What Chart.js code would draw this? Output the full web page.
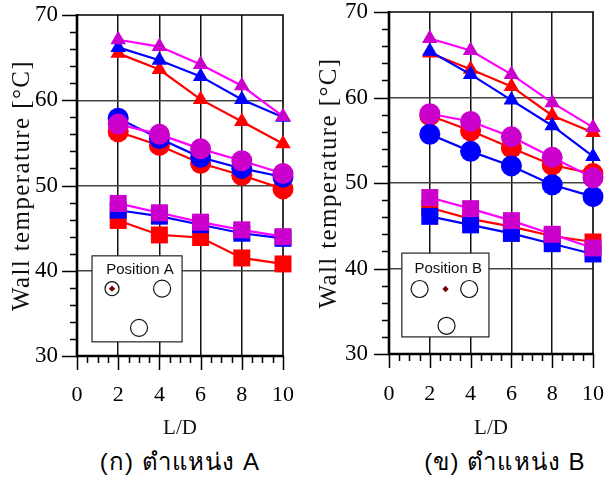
<!DOCTYPE html>
<html lang="th">
<head>
  <meta charset="UTF-8">
  <title>Wall temperature vs L/D</title>
  <script src="https://cdn.jsdelivr.net/npm/chart.js"></script>
  <style>
    body {
      margin: 0;
      background: #fff;
      width: 605px;
      height: 479px;
      position: relative;
      overflow: hidden;
    }
    .panel {
      position: absolute;
      top: 0;
      height: 440px;
    }
    #panelA { left: 0; width: 300px; }
    #panelB { left: 300px; width: 305px; }
    .caption {
      position: absolute;
      top: 449px;
      font-size: 24px;
      line-height: 26px;
      letter-spacing: 1.1px;
      font-family: "Liberation Sans", Arial, sans-serif;
      color: #000;
      white-space: nowrap;
      transform: translateX(-50%);
    }
  </style>
</head>
<body>
  <div class="panel" id="panelA"><canvas id="chartA" width="300" height="440"></canvas></div>
  <div class="panel" id="panelB"><canvas id="chartB" width="305" height="440"></canvas></div>
  <div class="caption" style="left:180px">(ก) ตำแหน่ง A</div>
  <div class="caption" style="left:505px">(ข) ตำแหน่ง B</div>

  <script>
    const ldValues = [2, 4, 6, 8, 10];
    const xTicks = [0, 2, 4, 6, 8, 10];
    const yTicks = [30, 40, 50, 60, 70];

    // position A
    const triRedA = [65.5, 63.6, 60.1, 57.5, 54.9];
    const triBlueA = [66.2, 64.7, 62.8, 60.1, 58.0];
    const triMagA = [67.1, 66.3, 64.2, 61.7, 58.1];
    const cirRedA = [56.3, 54.7, 52.6, 51.2, 49.6];
    const cirBlueA = [57.9, 55.5, 53.3, 52.0, 51.0];
    const cirMagA = [57.2, 56.0, 54.3, 52.9, 51.4];
    const sqRedA = [45.9, 44.2, 43.9, 41.5, 40.8];
    const sqBlueA = [47.1, 46.4, 45.4, 44.4, 43.8];
    const sqMagA = [47.9, 46.8, 45.7, 44.8, 44.0];

    // position B
    const triRedB = [65.2, 63.3, 61.3, 57.9, 55.9];
    const triBlueB = [65.4, 62.7, 59.7, 56.7, 53.1];
    const triMagB = [66.9, 65.5, 62.7, 59.4, 56.5];
    const cirRedB = [57.9, 56.1, 54.1, 52.1, 51.1];
    const cirBlueB = [55.7, 53.7, 52.0, 49.8, 48.4];
    const cirMagB = [58.1, 57.2, 55.4, 53.0, 50.6];
    const sqRedB = [47.1, 45.8, 44.9, 43.8, 43.1];
    const sqBlueB = [46.1, 45.1, 44.1, 42.9, 41.7];
    const sqMagB = [48.3, 47.0, 45.6, 44.0, 42.4];

    const RED = '#ff0000';
    const BLUE = '#0000ff';
    const MAG_LINE = '#ff00ff';
    const MAG_FILL = '#cc00cc';

    const markerSize = { triangle: 9, circle: 10.5, rect: 12 };

    function series(values, line, fill, style) {
      return {
        data: values.map((v, i) => ({ x: ldValues[i], y: v })),
        borderColor: line,
        backgroundColor: fill,
        borderWidth: 2.2,
        pointStyle: style,
        pointRadius: markerSize[style],
        pointBorderWidth: 0,
        pointBackgroundColor: fill,
        pointHoverRadius: markerSize[style],
        clip: false,
        tension: 0
      };
    }

    // first dataset is painted last, so magenta goes first
    function buildSets(t, c, s) {
      return [
        series(t.mag, MAG_LINE, MAG_FILL, 'triangle'),
        series(t.blue, BLUE, BLUE, 'triangle'),
        series(t.red, RED, RED, 'triangle'),
        series(c.mag, MAG_LINE, MAG_FILL, 'circle'),
        series(c.blue, BLUE, BLUE, 'circle'),
        series(c.red, RED, RED, 'circle'),
        series(s.mag, MAG_LINE, MAG_FILL, 'rect'),
        series(s.blue, BLUE, BLUE, 'rect'),
        series(s.red, RED, RED, 'rect')
      ];
    }

    // schematic of the tube cross-section, in axis units
    const insetA = {
      label: 'Position A',
      box: [0.73, 5.1, 31.66, 41.75],
      text: [3.06, 40.1],
      holes: [[4.13, 37.9], [3.01, 33.3]],
      ring: [1.70, 37.9],
      probe: [1.70, 37.9]
    };
    const insetB = {
      label: 'Position B',
      box: [0.63, 4.9, 32.0, 41.8],
      text: [2.9, 39.9],
      holes: [[1.5, 37.6], [3.93, 37.6], [2.82, 33.3]],
      ring: null,
      probe: [2.77, 37.6]
    };

    const panelPlugin = {
      id: 'panel',
      beforeDatasetsDraw(chart, args, opts) {
        const { ctx, chartArea: a, scales: { x, y } } = chart;
        const ins = opts.inset;
        ctx.save();

        // inset box
        const bx0 = x.getPixelForValue(ins.box[0]);
        const bx1 = x.getPixelForValue(ins.box[1]);
        const by0 = y.getPixelForValue(ins.box[3]);
        const by1 = y.getPixelForValue(ins.box[2]);
        ctx.fillStyle = '#fff';
        ctx.fillRect(bx0, by0, bx1 - bx0, by1 - by0);
        ctx.strokeStyle = '#222';
        ctx.lineWidth = 1.2;
        ctx.strokeRect(bx0, by0, bx1 - bx0, by1 - by0);

        ctx.fillStyle = '#111';
        ctx.font = '15px "Liberation Sans", Arial, sans-serif';
        ctx.textAlign = 'center';
        ctx.textBaseline = 'middle';
        ctx.fillText(ins.label, x.getPixelForValue(ins.text[0]), y.getPixelForValue(ins.text[1]));

        ctx.lineWidth = 1.2;
        ctx.strokeStyle = '#111';
        ins.holes.forEach(h => {
          ctx.beginPath();
          ctx.arc(x.getPixelForValue(h[0]), y.getPixelForValue(h[1]), 8.5, 0, Math.PI * 2);
          ctx.stroke();
        });
        if (ins.ring) {
          ctx.beginPath();
          ctx.arc(x.getPixelForValue(ins.ring[0]), y.getPixelForValue(ins.ring[1]), 7, 0, Math.PI * 2);
          ctx.stroke();
        }
        const px = x.getPixelForValue(ins.probe[0]);
        const py = y.getPixelForValue(ins.probe[1]);
        ctx.fillStyle = '#7a0000';
        ctx.beginPath();
        ctx.moveTo(px, py - 3.2);
        ctx.lineTo(px + 3.2, py);
        ctx.lineTo(px, py + 3.2);
        ctx.lineTo(px - 3.2, py);
        ctx.closePath();
        ctx.fill();

        // plot frame
        ctx.strokeStyle = '#000';
        ctx.lineWidth = 1.6;
        ctx.beginPath();
        ctx.moveTo(a.left, a.top);
        ctx.lineTo(a.right, a.top);
        ctx.lineTo(a.right, a.bottom);
        ctx.stroke();
        ctx.lineWidth = 2.6;
        ctx.beginPath();
        ctx.moveTo(a.left, a.top - 1);
        ctx.lineTo(a.left, a.bottom);
        ctx.lineTo(a.right + 1, a.bottom);
        ctx.stroke();
        ctx.restore();
      },
      afterDraw(chart, args, opts) {
        const { ctx, chartArea: a, scales: { x, y } } = chart;
        ctx.save();
        ctx.strokeStyle = '#000';
        ctx.lineWidth = 1.5;
        ctx.beginPath();
        for (let v = 30; v <= 70; v += 2) {
          const len = v % 10 === 0 ? 15 : 7;
          const py = Math.round(y.getPixelForValue(v)) + 0.5;
          ctx.moveTo(a.left - len, py);
          ctx.lineTo(a.left, py);
        }
        for (let v = 0; v <= 10; v += 0.5) {
          const len = v % 2 === 0 ? 14 : 7;
          const px = Math.round(x.getPixelForValue(v)) + 0.5;
          ctx.moveTo(px, a.bottom);
          ctx.lineTo(px, a.bottom + len);
        }
        ctx.stroke();

        // rotated axis title, slightly letter-spaced
        ctx.fillStyle = '#111';
        ctx.font = '25px "Liberation Serif", "Times New Roman", serif';
        ctx.letterSpacing = '1.4px';
        ctx.textAlign = 'center';
        ctx.textBaseline = 'middle';
        ctx.translate(opts.titleX, (a.top + a.bottom) / 2);
        ctx.rotate(-Math.PI / 2);
        ctx.fillText('Wall temperature [°C]', 0, 0);
        ctx.restore();
      }
    };

    // keep tick-label padding from eating into the plot area
    function noEdgePadding(scale) {
      scale.paddingLeft = 0;
      scale.paddingRight = 0;
      scale.paddingTop = 0;
      scale.paddingBottom = 0;
    }

    function makeChart(id, sets, inset, geo) {
      return new Chart(document.getElementById(id), {
        type: 'line',
        data: { datasets: sets },
        plugins: [panelPlugin],
        options: {
          responsive: false,
          animation: false,
          events: [],
          layout: { padding: geo.padding },
          plugins: {
            legend: { display: false },
            tooltip: { enabled: false },
            panel: { inset: inset, titleX: geo.titleX }
          },
          scales: {
            x: {
              type: 'linear',
              min: 0,
              max: 10,
              afterFit(scale) { scale.height = geo.xHeight; noEdgePadding(scale); },
              afterBuildTicks(scale) { scale.ticks = xTicks.map(v => ({ value: v })); },
              ticks: {
                color: '#000',
                padding: geo.xPad,
                font: { family: '"Liberation Serif", "Times New Roman", serif', size: 22, lineHeight: 1 }
              },
              grid: {
                drawTicks: false,
                lineWidth: 1.5,
                color: c => (c.tick && c.tick.value > 0 && c.tick.value < 10) ? '#111' : 'rgba(0,0,0,0)'
              },
              border: { display: false },
              title: {
                display: true,
                text: 'L/D',
                color: '#111',
                padding: { top: 0, bottom: 0 },
                font: { family: '"Liberation Serif", "Times New Roman", serif', size: 21, lineHeight: 1.1 }
              }
            },
            y: {
              type: 'linear',
              min: 30,
              max: 70,
              afterFit(scale) { scale.width = geo.yWidth; noEdgePadding(scale); },
              afterBuildTicks(scale) { scale.ticks = yTicks.map(v => ({ value: v })); },
              ticks: {
                color: '#000',
                padding: geo.yPad,
                font: { family: '"Liberation Serif", "Times New Roman", serif', size: 23, lineHeight: 1 }
              },
              grid: {
                drawTicks: false,
                lineWidth: 1.5,
                color: c => (c.tick && c.tick.value > 30 && c.tick.value < 70) ? '#444' : 'rgba(0,0,0,0)'
              },
              border: { display: false }
            }
          }
        }
      });
    }

    makeChart('chartA',
      buildSets(
        { red: triRedA, blue: triBlueA, mag: triMagA },
        { red: cirRedA, blue: cirBlueA, mag: cirMagA },
        { red: sqRedA, blue: sqBlueA, mag: sqMagA }),
      insetA,
      { padding: { left: 0, top: 15, right: 17, bottom: 0 }, xHeight: 84, yWidth: 77, xPad: 28, yPad: 19, titleX: 22 });

    makeChart('chartB',
      buildSets(
        { red: triRedB, blue: triBlueB, mag: triMagB },
        { red: cirRedB, blue: cirBlueB, mag: cirMagB },
        { red: sqRedB, blue: sqBlueB, mag: sqMagB }),
      insetB,
      { padding: { left: 0, top: 12, right: 10, bottom: 0 }, xHeight: 86, yWidth: 89, xPad: 29, yPad: 21, titleX: 29 });
  </script>
</body>
</html>
